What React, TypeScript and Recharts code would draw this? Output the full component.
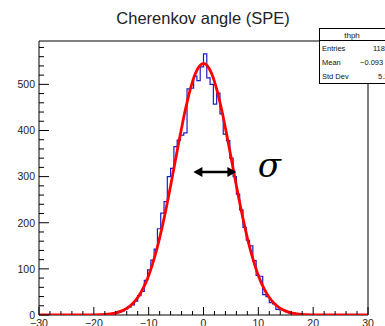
import React from "react";
import {
  ComposedChart,
  Line,
  XAxis,
  YAxis,
  ReferenceArea,
  ReferenceLine,
  ReferenceDot,
} from "recharts";

// ---- canvas / frame geometry ----
const W = 385;
const H = 326;
const PLOT = { left: 39, right: 368, top: 41, bottom: 315 };
const FONT = "'Liberation Sans', Arial, Helvetica, sans-serif";

// ---- histogram "thph": 100 bins on [-30, 30] ----
const BIN_LOW = -30;
const BIN_HIGH = 30;
const BIN_WIDTH = 0.6;
const counts = [
  0, 0, 0, 0, 0, 0, 0, 0, 0, 0,
  0, 0, 0, 0, 0, 1, 0, 0, 1, 1,
  2, 2, 3, 5, 6, 9, 13, 17, 22, 30,
  42, 51, 75, 98, 119, 143, 187, 221, 246, 300,
  318, 365, 379, 390, 395, 490, 492, 518, 508, 538,
  566, 514, 500, 457, 481, 436, 392, 378, 340, 300,
  262, 228, 190, 162, 150, 118, 86, 84, 44, 40,
  27, 24, 12, 11, 10, 7, 4, 4, 3, 3,
  1, 1, 0, 0, 1, 0, 0, 0, 0, 0,
  0, 0, 0, 0, 0, 0, 0, 0, 0, 0,
];

// ---- gaussian fit curve, sampled ----
const fitX = [
  -30, -25, -20, -19, -18, -17, -16, -15, -14, -13,
  -12, -11.5, -11, -10.5, -10, -9.5, -9, -8.5, -8, -7.5,
  -7, -6.5, -6, -5.5, -5, -4.5, -4, -3.5, -3, -2.5,
  -2, -1.5, -1, -0.5, 0, 0.5, 1, 1.5, 2, 2.5,
  3, 3.5, 4, 4.5, 5, 5.5, 6, 6.5, 7, 7.5,
  8, 8.5, 9, 9.5, 10, 10.5, 11, 11.5, 12, 13,
  14, 15, 16, 17, 18, 19, 20, 25, 30,
];
const fitY = [
  0, 0, 0.3, 0.7, 1.4, 2.6, 4.8, 8.5, 14.5, 23.9,
  38.0, 47.2, 58.2, 70.7, 85.8, 102.7, 122, 143.3, 167, 192.6,
  220, 249.5, 280, 311.5, 343, 374.8, 405, 434.5, 461, 485.5,
  506, 522.8, 535, 542.5, 545, 542.5, 535, 522.8, 506, 485.5,
  461, 434.5, 405, 374.8, 343, 311.5, 280, 249.5, 220, 192.6,
  167, 143.3, 122, 102.7, 85.8, 70.7, 58.2, 47.2, 38.0, 23.9,
  14.5, 8.5, 4.8, 2.6, 1.4, 0.7, 0.3, 0, 0,
];

// ---- axes ----
const Y_MAX = 594;
const xTicks = [
  -30, -28, -26, -24, -22, -20, -18, -16, -14, -12, -10, -8, -6, -4, -2, 0,
  2, 4, 6, 8, 10, 12, 14, 16, 18, 20, 22, 24, 26, 28, 30,
];
const xLabelTicks = [-30, -20, -10, 0, 10, 20, 30];
const yTicks = [
  0, 20, 40, 60, 80, 100, 120, 140, 160, 180, 200, 220, 240, 260, 280, 300,
  320, 340, 360, 380, 400, 420, 440, 460, 480, 500, 520, 540, 560, 580,
];
const yLabelTicks = [0, 100, 200, 300, 400, 500];

// ---- text ----
const title = "Cherenkov angle (SPE)";
const statsName = "thph";
const statsLabels = ["Entries", "Mean", "Std Dev"];
const statsValues = ["118", "\u22120.093", "5.2"];

// ---- sigma marker ----
const sigmaArrow = { x1: -1.85, x2: 6.0, y: 310 };
const sigmaLabel = { x: 9.9, y: 299, text: "\u03c3" };

const histData = counts.map((c, i) => ({ x: BIN_LOW + i * BIN_WIDTH, h: c }));
histData.push({ x: BIN_HIGH, h: counts[counts.length - 1] });
const fitData = fitX.map((x, i) => ({ x, f: fitY[i] }));

const fmt = (v: number) => (v < 0 ? "\u2212" + Math.abs(v) : String(v));

const YTick = (props: any) => {
  const { y, payload } = props;
  const v = payload.value;
  const major = yLabelTicks.includes(v);
  return (
    <g>
      <line
        x1={PLOT.left}
        x2={PLOT.left + (major ? 10 : 5)}
        y1={y}
        y2={y}
        stroke="#000"
        strokeWidth={1}
      />
      {major && (
        <text
          x={PLOT.left - 4}
          y={y}
          dy="0.36em"
          textAnchor="end"
          fontFamily={FONT}
          fontSize={10.5}
          fill="#222"
        >
          {v}
        </text>
      )}
    </g>
  );
};

const XTick = (props: any) => {
  const { x, payload } = props;
  const v = payload.value;
  const major = xLabelTicks.includes(v);
  return (
    <g>
      <line
        x1={x}
        x2={x}
        y1={PLOT.bottom}
        y2={PLOT.bottom - (major ? 8 : 4)}
        stroke="#000"
        strokeWidth={1}
      />
      {major && (
        <text
          x={x}
          y={PLOT.bottom + 12}
          textAnchor="middle"
          fontFamily={FONT}
          fontSize={10.5}
          fill="#222"
        >
          {fmt(v)}
        </text>
      )}
    </g>
  );
};

const LeftHead = (p: any) => (
  <polygon
    points={`${p.cx},${p.cy} ${p.cx + 9},${p.cy - 5} ${p.cx + 9},${p.cy + 5}`}
    fill="#000"
  />
);
const RightHead = (p: any) => (
  <polygon
    points={`${p.cx},${p.cy} ${p.cx - 9},${p.cy - 5} ${p.cx - 9},${p.cy + 5}`}
    fill="#000"
  />
);
const SigmaText = (p: any) => (
  <text
    x={p.cx}
    y={p.cy}
    fontFamily="'DejaVu Serif', 'Liberation Serif', serif"
    fontStyle="italic"
    fontSize={34}
    fill="#000"
  >
    {sigmaLabel.text}
  </text>
);

export default function App() {
  const box = { x: 319, y: 28, w: 72, h: 55, head: 12 };
  return (
    <div
      style={{
        position: "absolute",
        left: 0,
        top: 0,
        width: W,
        height: H,
        background: "#fff",
        overflow: "hidden",
      }}
    >
      <ComposedChart
        width={W}
        height={H}
        margin={{
          top: PLOT.top,
          right: W - PLOT.right,
          bottom: 0,
          left: 0,
        }}
      >
        <XAxis
          type="number"
          dataKey="x"
          domain={[BIN_LOW, BIN_HIGH]}
          allowDataOverflow
          ticks={xTicks}
          interval={0}
          height={H - PLOT.bottom}
          axisLine={false}
          tickLine={false}
          tick={<XTick />}
        />
        <YAxis
          type="number"
          domain={[0, Y_MAX]}
          allowDataOverflow
          ticks={yTicks}
          interval={0}
          width={PLOT.left}
          axisLine={false}
          tickLine={false}
          tick={<YTick />}
        />
        <ReferenceArea
          x1={BIN_LOW}
          x2={BIN_HIGH}
          y1={0}
          y2={Y_MAX}
          fill="none"
          stroke="#000"
          strokeWidth={1}
          ifOverflow="visible"
        />
        <Line
          data={histData}
          dataKey="h"
          type="stepAfter"
          stroke="#1c1cc8"
          strokeWidth={1.2}
          dot={false}
          activeDot={false}
          isAnimationActive={false}
        />
        <Line
          data={fitData}
          dataKey="f"
          type="monotone"
          stroke="#ff0000"
          strokeWidth={2.8}
          dot={false}
          activeDot={false}
          isAnimationActive={false}
        />
        <ReferenceLine
          segment={[
            { x: sigmaArrow.x1 + 1, y: sigmaArrow.y },
            { x: sigmaArrow.x2 - 1, y: sigmaArrow.y },
          ]}
          stroke="#000"
          strokeWidth={2.6}
        />
        <ReferenceDot x={sigmaArrow.x1} y={sigmaArrow.y} shape={LeftHead} />
        <ReferenceDot x={sigmaArrow.x2} y={sigmaArrow.y} shape={RightHead} />
        <ReferenceDot x={sigmaLabel.x} y={sigmaLabel.y} shape={SigmaText} />
      </ComposedChart>

      <svg
        width={W}
        height={H}
        style={{ position: "absolute", left: 0, top: 0, pointerEvents: "none" }}
      >
        <text
          x={203}
          y={23.5}
          textAnchor="middle"
          fontFamily={FONT}
          fontSize={16.5}
          fill="#222"
        >
          {title}
        </text>
        <rect
          x={box.x + 0.5}
          y={box.y + 0.5}
          width={box.w}
          height={box.h}
          fill="#fff"
          stroke="#000"
          strokeWidth={1}
        />
        <line
          x1={box.x}
          x2={box.x + box.w + 1}
          y1={box.y + box.head + 0.5}
          y2={box.y + box.head + 0.5}
          stroke="#000"
          strokeWidth={1}
        />
        <text
          x={box.x + 33}
          y={box.y + 9.5}
          textAnchor="middle"
          fontFamily={FONT}
          fontSize={8}
          fill="#111"
        >
          {statsName}
        </text>
        {statsLabels.map((lab, i) => (
          <g key={lab}>
            <text
              x={box.x + 3}
              y={box.y + 23 + i * 14}
              fontFamily={FONT}
              fontSize={7.5}
              fill="#111"
            >
              {lab}
            </text>
          </g>
        ))}
        {statsValues.map((val, i) => (
          <text
            key={i}
            x={[373, 360, 378][i]}
            y={box.y + 23 + i * 14}
            fontFamily={FONT}
            fontSize={7.5}
            fill="#111"
          >
            {val}
          </text>
        ))}
      </svg>
    </div>
  );
}
